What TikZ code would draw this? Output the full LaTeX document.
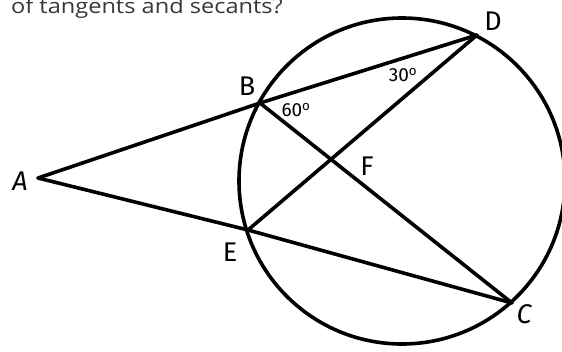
\documentclass[tikz,border=0pt]{standalone}
\usepackage{fontspec}
\setmainfont{Open Sans}
\newfontfamily\lblfont{Fira Sans}
\begin{document}
\begin{tikzpicture}[x=1pt,y=-1pt,
  geo/.style={line width=3.6pt, line cap=round, line join=round},
  ptlabel/.style={font=\lblfont\fontsize{27}{27}\selectfont, inner sep=0pt},
  anglabel/.style={font=\lblfont\fontsize{19}{19}\selectfont, inner sep=0pt},
  toptext/.style={font=\fontsize{20.5}{20.5}\selectfont, text=black!78, inner sep=0pt}]
\useasboundingbox (0,0) rectangle (562,351);
\clip (0,0) rectangle (562,351);
\fill[white] (0,0) rectangle (562,351);
% points
\coordinate (A) at (38,178);
\coordinate (B) at (260,103);
\coordinate (D) at (477,35);
\coordinate (E) at (248,230);
\coordinate (C) at (512,303);
\coordinate (O) at (402,181);
\coordinate (F) at (intersection of B--C and E--D);
% circle
\draw[geo] (O) circle[radius=163];
% lines
\draw[geo] (A) -- (B) -- (D);
\draw[geo] (A) -- (E) -- (C);
\draw[geo] (B) -- (C);
\draw[geo] (E) -- (D);
% labels
\node[ptlabel] (lA) at (20,181) {\itshape A};
\node[ptlabel] (lB) at (247,86) {B};
\node[ptlabel] (lD) at (493,21) {D};
\node[ptlabel] (lE) at (230,252) {E};
\node[ptlabel] (lF) at (367,166) {F};
\node[ptlabel] (lC) at (524,314) {\itshape C};
\node[anglabel] (a60) at (296,110) {60\textsuperscript{o}};
\node[anglabel] (a30) at (403,75) {30\textsuperscript{o}};
% top text (cut off)
\node[toptext, anchor=base east] (title) at (283,13) {\scalebox{1.15}[1]{of tangents and secants?}};
\end{tikzpicture}
\end{document}
